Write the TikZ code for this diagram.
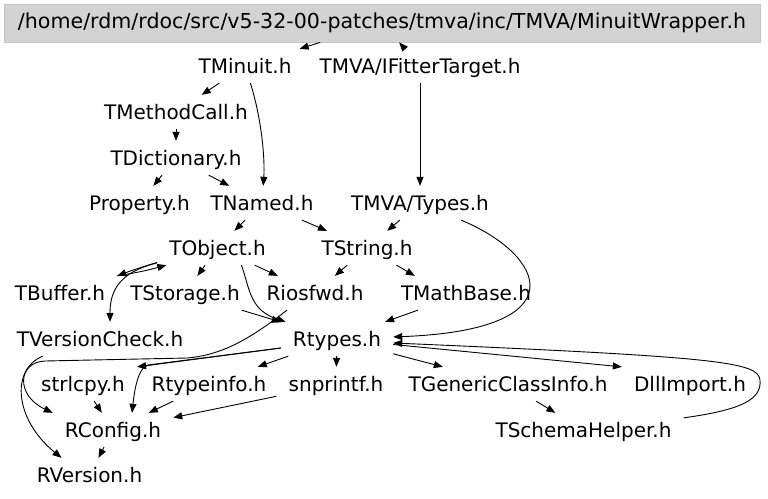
\documentclass[tikz,border=0pt]{standalone}
\usepackage{fontspec}
\setmainfont{DejaVu Sans}
\usetikzlibrary{arrows.meta}
\definecolor{hdrfill}{RGB}{211,211,211}
\definecolor{hdrline}{RGB}{196,196,196}
\begin{document}
\begin{tikzpicture}[x=1pt,y=-1pt,
  inc/.style={font=\fontsize{20}{24}\selectfont, text height=14.5pt, text depth=0pt,
              inner xsep=12pt, inner ysep=9.7pt},
  topbox/.style={font=\fontsize{20.6}{24}\selectfont, text height=14.5pt, text depth=4pt,
              inner sep=0pt, minimum width=756pt, minimum height=38pt,
              fill=hdrfill, draw=hdrline, line width=0.8pt},
  e/.style={draw=black, line width=0.9pt, -{Triangle[length=9pt,width=7pt]}}]
\useasboundingbox (0,0) rectangle (768,498);

% nodes
\node[topbox] (top) at (382,23) {/home/rdm/rdoc/src/v5-32-00-patches/tmva/inc/TMVA/MinuitWrapper.h};
\node[inc] (TMinuit) at (245,66) {TMinuit.h};
\node[inc] (IFitter) at (420,66) {TMVA/IFitterTarget.h};
\node[inc] (TMethodCall) at (176,112) {TMethodCall.h};
\node[inc] (TDictionary) at (176,158) {TDictionary.h};
\node[inc] (Property) at (139.5,203) {Property.h};
\node[inc] (TNamed) at (262,203) {TNamed.h};
\node[inc] (Types) at (420,203) {TMVA/Types.h};
\node[inc] (TObject) at (217.5,248) {TObject.h};
\node[inc] (TString) at (367,248) {TString.h};
\node[inc] (TBuffer) at (60,293) {TBuffer.h};
\node[inc] (TStorage) at (185,293) {TStorage.h};
\node[inc] (Riosfwd) at (315,293) {Riosfwd.h};
\node[inc] (TMathBase) at (466,293) {TMathBase.h};
\node[inc] (TVersionCheck) at (100,339) {TVersionCheck.h};
\node[inc] (Rtypes) at (337,339) {Rtypes.h};
\node[inc] (strlcpy) at (83,384) {strlcpy.h};
\node[inc] (Rtypeinfo) at (209,384) {Rtypeinfo.h};
\node[inc] (snprintf) at (336,384) {snprintf.h};
\node[inc] (TGCI) at (508,384) {TGenericClassInfo.h};
\node[inc] (DllImport) at (690,384) {DllImport.h};
\node[inc] (RConfig) at (113,430) {RConfig.h};
\node[inc] (TSchemaHelper) at (583.5,430) {TSchemaHelper.h};
\node[inc] (RVersion) at (89.5,475) {RVersion.h};

% edges
\draw[e] (top) -- (TMinuit);
\draw[e] (IFitter) -- (top);
\draw[e] (TMinuit) -- (TMethodCall);
\draw[e] (TMinuit) .. controls (262,120) and (265,160) .. (TNamed);
\draw[e] (IFitter) -- (Types);
\draw[e] (TMethodCall) -- (TDictionary);
\draw[e] (TDictionary) -- (Property);
\draw[e] (TDictionary) -- (TNamed);
\draw[e] (TNamed) -- (TObject);
\draw[e] (TNamed) -- (TString);
\draw[e] (Types) -- (TString);
\draw[e] (Types) .. controls (545,255) and (580,330) .. (Rtypes);
\draw[e] (TObject) to[bend right=2] (TBuffer.north east);
\draw[e] (TBuffer.north east) to[bend right=3] (TObject);
\draw[e] (TObject) .. controls (120,272) and (110,290) .. ([xshift=10pt]TVersionCheck.north);
\draw[e] (TObject) -- (TStorage);
\draw[e] (TObject) -- (Riosfwd);
\draw[e] ([xshift=24pt]TObject.south) .. controls (250,290) and (250,310) .. (Rtypes);
\draw[e] (TString) -- (Riosfwd);
\draw[e] (TString) -- ([xshift=26pt]TMathBase.north west);
\draw[e] (TStorage) -- (Rtypes);
\draw[e] (TMathBase) -- (Rtypes);
\draw[e] ([xshift=-28pt]Riosfwd.south) .. controls (255,335) and (225,355) .. (187,358)
   -- (45,361) .. controls (18,362) and (15,395) .. (RConfig.north west);
\draw[e] ([yshift=-9pt]Rtypes.west) -- (strlcpy.north east);
\draw[e] ([yshift=-9pt]Rtypes.west) -- (148,365) .. controls (137,368) and (134,395) .. ([xshift=19pt]RConfig.north);
\draw[e] (Rtypes) -- (Rtypeinfo);
\draw[e] (Rtypes) -- (snprintf);
\draw[e] (Rtypes) -- (TGCI);
\draw[e] (Rtypes) -- (DllImport.north west);
\draw[e] ([yshift=-5pt]TSchemaHelper.north east) .. controls (740,410) and (762,400) .. (760,380)
   .. controls (758,362) and (720,357) .. ([yshift=-4pt]Rtypes.east);
\draw[e] (TGCI) -- (TSchemaHelper);
\draw[e] ([xshift=38pt]TVersionCheck.south west) .. controls (10,370) and (15,420) .. ([xshift=-28pt]RVersion.north);
\draw[e] (strlcpy) -- (RConfig);
\draw[e] (Rtypeinfo) -- (RConfig);
\draw[e] (snprintf) -- (RConfig);
\draw[e] (RConfig) -- (RVersion);
\end{tikzpicture}
\end{document}
